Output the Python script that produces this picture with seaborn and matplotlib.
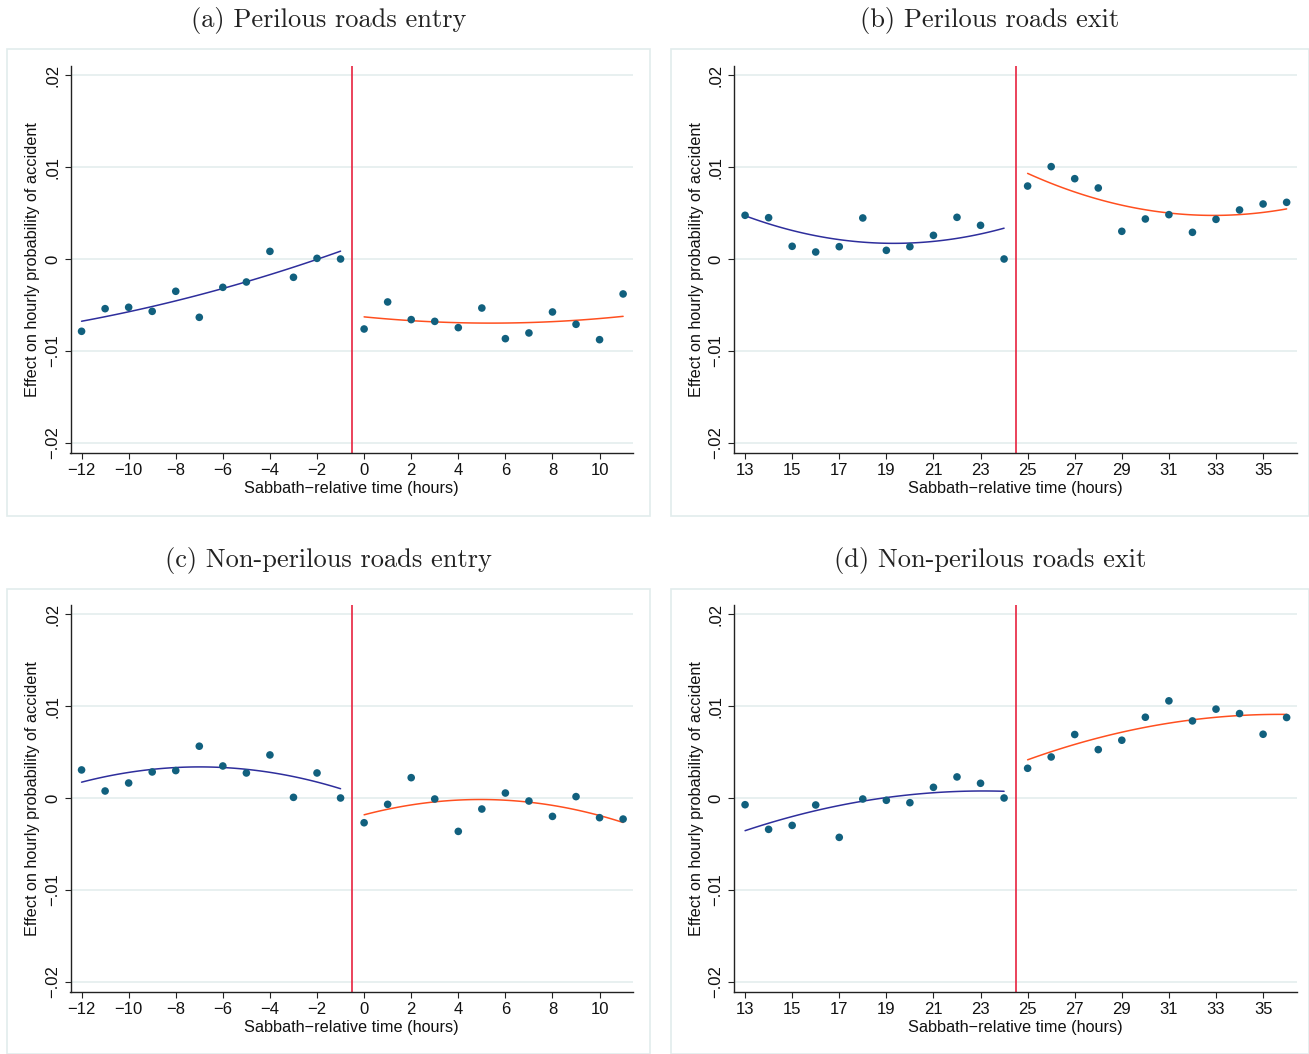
import numpy as np
import pandas as pd
import matplotlib
matplotlib.use("Agg")
import matplotlib.pyplot as plt
import seaborn as sns
from matplotlib.patches import Rectangle

# ---------------- data (effects in units of 0.001) ----------------
entry_hours = list(range(-12, 12))
exit_hours = list(range(13, 37))
entry_cutoff = -0.5
exit_cutoff = 24.5

perilous_entry = [-7.86, -5.40, -5.25, -5.69, -3.51, -6.34, -3.08, -2.50, 0.83, -1.99, 0.07, 0.0,
                  -7.61, -4.67, -6.59, -6.78, -7.46, -5.33, -8.66, -8.04, -5.76, -7.10, -8.77, -3.80]
perilous_exit = [4.75, 4.49, 1.38, 0.76, 1.34, 4.46, 0.94, 1.34, 2.57, 4.53, 3.66, 0.0,
                 7.93, 10.04, 8.73, 7.72, 3.01, 4.35, 4.82, 2.90, 4.31, 5.33, 5.98, 6.16]
nonperilous_entry = [3.05, 0.76, 1.63, 2.83, 2.98, 5.63, 3.48, 2.72, 4.68, 0.07, 2.72, 0.0,
                     -2.69, -0.69, 2.21, -0.11, -3.63, -1.20, 0.54, -0.33, -2.00, 0.15, -2.14, -2.29]
nonperilous_exit = [-0.73, -3.41, -2.98, -0.76, -4.28, -0.11, -0.25, -0.51, 1.16, 2.29, 1.60, 0.0,
                    3.23, 4.46, 6.90, 5.26, 6.28, 8.78, 10.56, 8.38, 9.66, 9.18, 6.93, 8.75]

# quadratic-fit curves (hour, value x 0.001)
fit_hours_pre_entry = [-12, -9, -6, -5, -3, -1]
fit_hours_post_entry = [0, 3, 5.5, 8, 11]
fit_hours_pre_exit = [13, 15, 17, 19, 21, 23, 24]
fit_hours_post_exit = [25, 27, 29, 31, 33, 35, 36]
fit_hours_pre_entry_c = [-12, -10, -8, -7, -5, -3, -1]
fit_hours_post_entry_c = [0, 2, 5, 7, 9, 11]

perilous_entry_fit_pre = [-6.78, -5.14, -3.19, -2.50, -0.91, 0.87]
perilous_entry_fit_post = [-6.30, -6.81, -6.99, -6.81, -6.23]
perilous_exit_fit_pre = [4.64, 3.19, 2.17, 1.59, 1.92, 2.72, 3.37]
perilous_exit_fit_post = [9.24, 7.36, 5.91, 5.00, 4.64, 5.00, 5.54]
nonperilous_entry_fit_pre = [1.74, 2.80, 3.23, 3.34, 3.16, 2.43, 0.94]
nonperilous_entry_fit_post = [-1.78, -0.83, -0.18, -0.40, -1.27, -2.69]
nonperilous_exit_fit_pre = [-3.56, -2.00, -0.83, 0.04, 0.58, 0.76, 0.73]
nonperilous_exit_fit_post = [4.14, 5.88, 7.08, 8.13, 8.82, 9.07, 9.07]

titles = ["(a) Perilous roads entry", "(b) Perilous roads exit",
          "(c) Non-perilous roads entry", "(d) Non-perilous roads exit"]
entry_xticks = list(range(-12, 11, 2))
exit_xticks = list(range(13, 36, 2))
y_ticks = [-0.02, -0.01, 0.0, 0.01, 0.02]
y_ticklabels = ["\u2212.02", "\u2212.01", "0", ".01", ".02"]
xlabel = "Sabbath\u2212relative time (hours)"
ylabel = "Effect on hourly probability of accident"

# ---------------- style ----------------
sns.set_theme(style="white")
plt.rcParams["font.family"] = ["Liberation Sans", "DejaVu Sans"]
plt.rcParams["axes.unicode_minus"] = True

W, H = 1309, 1054
fig = plt.figure(figsize=(W / 100, H / 100), dpi=100)

dot_color = "#11607e"
pre_color = "#2e2e9c"
post_color = "#ff4f1f"
cut_color = "#e8233f"
grid_color = "#e4eeee"
frame_color = "#e2ecec"

panels = [
    (perilous_entry, entry_hours, entry_cutoff, entry_xticks, (-12.47, 11.42),
     (fit_hours_pre_entry, perilous_entry_fit_pre), (fit_hours_post_entry, perilous_entry_fit_post)),
    (perilous_exit, exit_hours, exit_cutoff, exit_xticks, (12.53, 36.44),
     (fit_hours_pre_exit, perilous_exit_fit_pre), (fit_hours_post_exit, perilous_exit_fit_post)),
    (nonperilous_entry, entry_hours, entry_cutoff, entry_xticks, (-12.47, 11.42),
     (fit_hours_pre_entry_c, nonperilous_entry_fit_pre), (fit_hours_post_entry_c, nonperilous_entry_fit_post)),
    (nonperilous_exit, exit_hours, exit_cutoff, exit_xticks, (12.53, 36.44),
     (fit_hours_pre_exit, nonperilous_exit_fit_pre), (fit_hours_post_exit, nonperilous_exit_fit_post)),
]

# pixel layout: (axes left, axes right, axes top, axes bottom, frame l, r, t, b, title y)
layouts = [
    (70.5, 633, 66, 453, 7, 650, 49, 516, 21),
    (734, 1297, 66, 453, 671, 1309, 49, 516, 21),
    (70.5, 633, 605, 992, 7, 650, 589, 1054, 561),
    (734, 1297, 605, 992, 671, 1309, 589, 1054, 561),
]

for (vals, hours, cut, xticks, xlim, fit_pre, fit_post), lay, title in zip(panels, layouts, titles):
    al, ar, at, ab, fl, fr, ft, fb, ty = lay
    fig.patches.append(Rectangle((fl / W, 1 - fb / H), (fr - fl) / W, (fb - ft) / H,
                                 transform=fig.transFigure, fill=False,
                                 edgecolor=frame_color, linewidth=1.2, zorder=0))
    fig.text((fl + fr) / 2 / W, 1 - ty / H, title, family="cmr10", fontsize=19,
             ha="center", va="center", color="#222222")

    ax = fig.add_axes([al / W, 1 - ab / H, (ar - al) / W, (ab - at) / H])
    df = pd.DataFrame({"hour": hours, "effect": np.array(vals) / 1000.0})

    for (fh, fv), col in [(fit_pre, pre_color), (fit_post, post_color)]:
        sns.regplot(x=np.array(fh, dtype=float), y=np.array(fv) / 1000.0, ax=ax, order=2,
                    ci=None, scatter=False, truncate=True,
                    line_kws={"color": col, "linewidth": 1.1, "zorder": 3})

    sns.scatterplot(data=df, x="hour", y="effect", ax=ax, color=dot_color, s=30,
                    edgecolor="none", linewidth=0, zorder=4)
    ax.axvline(cut, color=cut_color, linewidth=1.2, zorder=2)

    ax.set_xlim(*xlim)
    ax.set_ylim(-0.02109, 0.02098)
    ax.set_xticks(xticks)
    ax.set_xticklabels([str(t).replace("-", "\u2212") for t in xticks])
    ax.set_yticks(y_ticks)
    ax.set_yticklabels(y_ticklabels, rotation=90, va="center")
    ax.yaxis.grid(True, color=grid_color, linewidth=1.2)
    ax.xaxis.grid(False)
    ax.set_axisbelow(True)
    for s in ["top", "right"]:
        ax.spines[s].set_visible(False)
    for s in ["left", "bottom"]:
        ax.spines[s].set_color("#222222")
        ax.spines[s].set_linewidth(1.0)
    ax.tick_params(axis="both", which="major", direction="out", length=4.5, width=0.8,
                   color="#222222", labelsize=12, labelcolor="#111111", pad=3,
                   left=True, bottom=True)
    ax.set_xlabel(xlabel, fontsize=11.7, color="#111111")
    ax.set_ylabel(ylabel, fontsize=11.7, color="#111111")
    ax.xaxis.set_label_coords(0.5, -0.072)
    ax.yaxis.set_label_coords(-0.054, 0.5)
    ax.set_facecolor("white")

fig.savefig("out.png", dpi=100, facecolor="white")
